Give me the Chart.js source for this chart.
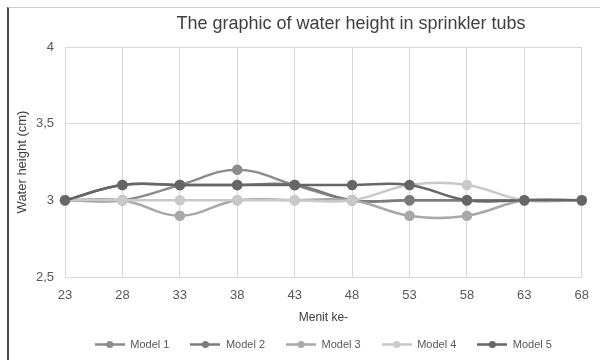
<!DOCTYPE html>
<html>
<head>
<meta charset="utf-8">
<script src="https://cdn.jsdelivr.net/npm/chart.js@4"></script>
<style>
  html, body { margin: 0; padding: 0; background: #fff; }
  #wrap { position: relative; width: 600px; height: 360px; }
  #frame { position: absolute; left: 7px; top: 7px; right: 0; bottom: 0;
           border-left: 2px solid #4a4a4a; border-top: 1px solid #d0d0d0; pointer-events: none; }
  #chart { position: absolute; left: 0; top: 0; }
</style>
</head>
<body>
<div id="wrap">
  <div id="frame"></div>
  <canvas id="chart" width="600" height="360"></canvas>
</div>
<script>
const minutes = ['23', '28', '33', '38', '43', '48', '53', '58', '63', '68'];
const model1 = [3, 3, 3.1, 3.2, 3.1, 3, 3, 3, 3, 3];
const model2 = [3, 3.1, 3.1, 3.1, 3.1, 3, 3, 3, 3, 3];
const model3 = [3, 3, 2.9, 3, 3, 3, 2.9, 2.9, 3, 3];
const model4 = [3, 3, 3, 3, 3, 3, 3.1, 3.1, 3, 3];
const model5 = [3, 3.1, 3.1, 3.1, 3.1, 3.1, 3.1, 3, 3, 3];
const seriesNames = ['Model 1', 'Model 2', 'Model 3', 'Model 4', 'Model 5'];
const colors = ['#8c8c8c', '#7b7b7b', '#a8a8a8', '#c9c9c9', '#666666'];

const FONT = '"Liberation Sans", Arial, sans-serif';

// small line+dot marker for the legend, like the Excel one
const makeMarker = (color) => {
    const c = document.createElement('canvas');
    c.width = 30;
    c.height = 9;
    const g = c.getContext('2d');
    g.strokeStyle = color;
    g.lineWidth = 2.5;
    g.beginPath();
    g.moveTo(0, 4.5);
    g.lineTo(30, 4.5);
    g.stroke();
    g.fillStyle = color;
    g.beginPath();
    g.arc(15, 4.5, 3.5, 0, Math.PI * 2);
    g.fill();
    return c;
};
const markers = colors.map(makeMarker);

const titlePlugin = {
    id: 'fixedTitle',
    afterDraw(chart) {
        const ctx = chart.ctx;
        ctx.save();
        ctx.font = '18px ' + FONT;
        ctx.fillStyle = '#404040';
        ctx.textAlign = 'center';
        ctx.textBaseline = 'middle';
        ctx.fillText('The graphic of water height in sprinkler tubs', 351, 24);
        ctx.restore();
    }
};

const data = [model1, model2, model3, model4, model5];

new Chart(document.getElementById('chart'), {
    type: 'line',
    data: {
        labels: minutes,
        datasets: data.map((values, i) => ({
            label: seriesNames[i],
            data: values,
            borderColor: colors[i],
            backgroundColor: colors[i],
            pointBackgroundColor: colors[i],
            pointBorderColor: colors[i],
            pointRadius: 4,
            borderWidth: 2.5,
            tension: 0.4,
            order: 5 - i
        }))
    },
    options: {
        responsive: false,
        animation: false,
        layout: { padding: { left: 10, right: 17, top: 47, bottom: 0 } },
        plugins: {
            title: { display: false },
            tooltip: { enabled: false },
            legend: {
                position: 'bottom',
                fullSize: false,
                labels: {
                    usePointStyle: true,
                    pointStyleWidth: 30,
                    padding: 21,
                    color: '#595959',
                    font: { family: FONT, size: 11 },
                    sort: (a, b) => a.datasetIndex - b.datasetIndex,
                    generateLabels: (chart) =>
                        Chart.defaults.plugins.legend.labels.generateLabels(chart).map(l => ({
                            ...l,
                            pointStyle: markers[l.datasetIndex]
                        }))
                }
            }
        },
        scales: {
            x: {
                type: 'category',
                offset: false,
                grid: { color: '#d9d9d9', drawTicks: false },
                border: { color: '#d9d9d9' },
                ticks: { color: '#595959', font: { family: FONT, size: 13 }, padding: 11, maxRotation: 0 },
                title: {
                    display: true,
                    text: 'Menit ke-',
                    color: '#404040',
                    font: { family: FONT, size: 12 },
                    padding: { top: 0, bottom: -7 }
                },
                afterFit: (scale) => { scale.height = 41; }
            },
            y: {
                min: 2.5,
                max: 4,
                grid: { color: '#d9d9d9', drawTicks: false },
                border: { color: '#d9d9d9' },
                ticks: {
                    stepSize: 0.5,
                    color: '#595959',
                    font: { family: FONT, size: 13 },
                    padding: 11,
                    callback: (v) => String(v).replace('.', ',')
                },
                title: {
                    display: true,
                    text: 'Water height (cm)',
                    color: '#404040',
                    font: { family: FONT, size: 13 },
                    padding: { top: 5, bottom: 4 }
                },
                afterFit: (scale) => { scale.width = 55; }
            }
        }
    },
    plugins: [titlePlugin]
});
</script>
</body>
</html>
